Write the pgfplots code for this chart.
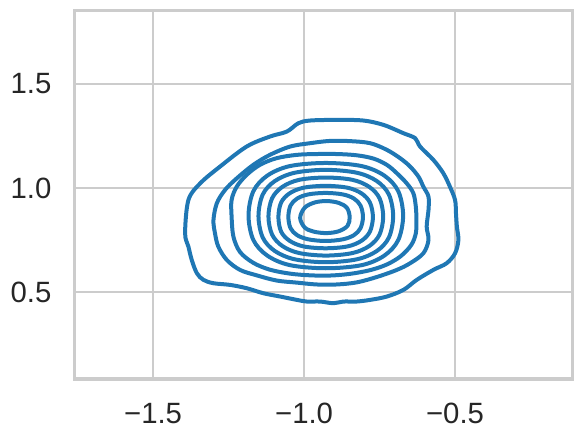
\documentclass[border=0pt]{standalone}
\usepackage{fontspec}
\setmainfont{Liberation Sans}
\usepackage{pgfplots}
\pgfplotsset{compat=1.18}
\usetikzlibrary{calc}
\definecolor{sbblue}{HTML}{1F77B4}
\definecolor{gridc}{HTML}{CCCCCC}
\definecolor{tickc}{HTML}{262626}
\pgfplotsset{ctr/.style={draw=sbblue, no marks, line width=3pt, smooth cycle, tension=0.55}}
\begin{document}
\begin{tikzpicture}
\begin{axis}[
  scale only axis, width=373.7pt, height=276.2pt,
  xmin=-1.761, xmax=-0.111, ymin=0.082, ymax=1.852,
  xtick={-1.5,-1,-0.5}, xticklabels={−1.5,−1.0,−0.5},
  ytick={0.5,1,1.5}, yticklabels={0.5,1.0,1.5},
  major tick length=0pt,
  grid=major, major grid style={gridc, line width=2pt},
  axis line style={gridc, line width=2.4pt},
  tick label style={font=\fontsize{22}{26}\selectfont, text=tickc, inner sep=0pt},
  xticklabel shift=18pt, yticklabel shift=17pt,
]
% contour 1 (outermost)
\addplot[ctr] coordinates {
(-1.394,0.782) (-1.383,0.942) (-1.344,1.022) (-1.278,1.103) (-1.190,1.199) (-1.113,1.247)
(-1.057,1.271) (-1.019,1.311) (-0.980,1.324) (-0.892,1.327) (-0.804,1.324) (-0.737,1.303)
(-0.671,1.263) (-0.632,1.239) (-0.616,1.199) (-0.572,1.135) (-0.539,1.071) (-0.517,1.006)
(-0.500,0.942) (-0.497,0.878) (-0.494,0.814) (-0.489,0.750) (-0.500,0.686) (-0.528,0.638)
(-0.572,0.606) (-0.627,0.558) (-0.671,0.510) (-0.726,0.478) (-0.781,0.462) (-0.826,0.454)
(-0.870,0.454) (-0.903,0.446) (-0.947,0.454) (-0.991,0.454) (-1.024,0.462) (-1.079,0.478)
(-1.135,0.494) (-1.190,0.518) (-1.245,0.534) (-1.300,0.542) (-1.333,0.558) (-1.355,0.590)
(-1.372,0.654) (-1.383,0.718)
};
% contour 2
\addplot[ctr] coordinates {
(-1.300,0.846) (-1.289,0.926) (-1.262,0.990) (-1.223,1.046) (-1.168,1.111) (-1.113,1.159)
(-1.046,1.199) (-0.980,1.215) (-0.914,1.226) (-0.848,1.225) (-0.781,1.215) (-0.726,1.183)
(-0.682,1.143) (-0.649,1.103) (-0.621,1.054) (-0.605,1.006) (-0.588,0.958) (-0.588,0.894)
(-0.594,0.814) (-0.588,0.750) (-0.605,0.686) (-0.649,0.638) (-0.693,0.606) (-0.759,0.572)
(-0.826,0.546) (-0.892,0.536) (-0.958,0.536) (-1.024,0.545) (-1.091,0.555) (-1.157,0.580)
(-1.212,0.606) (-1.256,0.654) (-1.284,0.718) (-1.295,0.782)
};
% contour 3
\addplot[ctr] coordinates {
(-1.240,0.862) (-1.240,0.942) (-1.223,1.006) (-1.190,1.063) (-1.146,1.111) (-1.091,1.143)
(-1.024,1.159) (-0.958,1.163) (-0.892,1.163) (-0.826,1.157) (-0.770,1.141) (-0.726,1.111)
(-0.693,1.071) (-0.660,1.022) (-0.638,0.974) (-0.630,0.910) (-0.628,0.846) (-0.630,0.782)
(-0.645,0.726) (-0.680,0.672) (-0.726,0.632) (-0.781,0.605) (-0.848,0.587) (-0.914,0.579)
(-0.980,0.580) (-1.046,0.588) (-1.113,0.607) (-1.168,0.640) (-1.212,0.692) (-1.234,0.766)
};
% contour 4
\addplot[ctr] coordinates {
(-0.672,0.867) (-0.688,0.984) (-0.734,1.059) (-0.809,1.105) (-0.928,1.120) (-1.047,1.105)
(-1.122,1.059) (-1.168,0.984) (-1.184,0.867) (-1.168,0.750) (-1.122,0.675) (-1.047,0.629)
(-0.928,0.614) (-0.809,0.629) (-0.734,0.675) (-0.688,0.750)
};
% contour 5
\addplot[ctr] coordinates {
(-0.705,0.865) (-0.719,0.968) (-0.759,1.033) (-0.825,1.073) (-0.928,1.087) (-1.031,1.073)
(-1.097,1.033) (-1.137,0.968) (-1.151,0.865) (-1.137,0.762) (-1.097,0.697) (-1.031,0.657)
(-0.928,0.643) (-0.825,0.657) (-0.759,0.697) (-0.719,0.762)
};
% contour 6
\addplot[ctr] coordinates {
(-0.738,0.863) (-0.750,0.950) (-0.784,1.005) (-0.840,1.039) (-0.928,1.050) (-1.016,1.039)
(-1.072,1.005) (-1.106,0.950) (-1.118,0.863) (-1.106,0.776) (-1.072,0.721) (-1.016,0.687)
(-0.928,0.675) (-0.840,0.687) (-0.784,0.721) (-0.750,0.776)
};
% contour 7
\addplot[ctr] coordinates {
(-0.772,0.860) (-0.782,0.930) (-0.810,0.974) (-0.856,1.001) (-0.929,1.010) (-1.002,1.001)
(-1.048,0.974) (-1.076,0.930) (-1.085,0.860) (-1.076,0.790) (-1.048,0.746) (-1.002,0.719)
(-0.929,0.710) (-0.856,0.719) (-0.810,0.746) (-0.782,0.790)
};
% contour 8
\addplot[ctr] coordinates {
(-0.805,0.861) (-0.813,0.915) (-0.835,0.949) (-0.872,0.969) (-0.929,0.976) (-0.986,0.969)
(-1.023,0.949) (-1.045,0.915) (-1.052,0.861) (-1.045,0.807) (-1.023,0.773) (-0.986,0.753)
(-0.929,0.745) (-0.872,0.753) (-0.835,0.773) (-0.813,0.807)
};
% contour 9 (innermost)
\addplot[ctr] coordinates {
(-1.013,0.856) (-0.998,0.905) (-0.965,0.930) (-0.925,0.937) (-0.885,0.928) (-0.858,0.904)
(-0.849,0.860) (-0.856,0.818) (-0.885,0.792) (-0.925,0.783) (-0.968,0.790) (-0.998,0.810)
};
\end{axis}
\path (current axis.south west) ++(-55.7pt,-45.75pt) rectangle ($(current axis.north east)+(5.6pt,8pt)$);
\end{tikzpicture}
\end{document}
